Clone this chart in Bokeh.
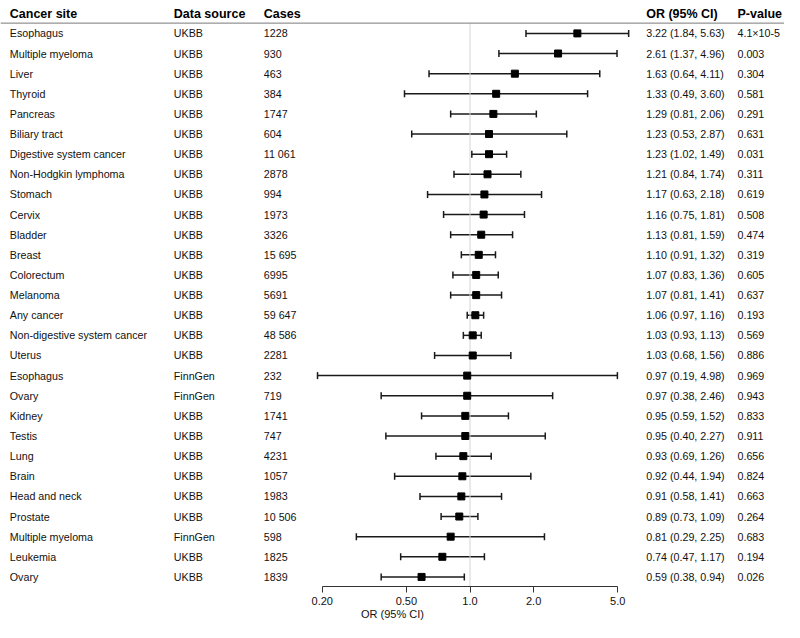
from bokeh.plotting import figure
from bokeh.models import (ColumnDataSource, Range1d, LinearScale, Span, Whisker,
                          TeeHead, FixedTicker)
from bokeh.core.properties import value
from bokeh.embed import file_html
from bokeh.resources import INLINE

# ---------------- data ----------------
sites = ["Esophagus", "Multiple myeloma", "Liver", "Thyroid", "Pancreas", "Biliary tract",
         "Digestive system cancer", "Non-Hodgkin lymphoma", "Stomach", "Cervix", "Bladder",
         "Breast", "Colorectum", "Melanoma", "Any cancer", "Non-digestive system cancer",
         "Uterus", "Esophagus", "Ovary", "Kidney", "Testis", "Lung", "Brain", "Head and neck",
         "Prostate", "Multiple myeloma", "Leukemia", "Ovary"]
sources = ["UKBB"] * 17 + ["FinnGen", "FinnGen"] + ["UKBB"] * 6 + ["FinnGen"] + ["UKBB"] * 2
cases = ["1228", "930", "463", "384", "1747", "604", "11 061", "2878", "994", "1973", "3326",
         "15 695", "6995", "5691", "59 647", "48 586", "2281", "232", "719", "1741", "747",
         "4231", "1057", "1983", "10 506", "598", "1825", "1839"]
or_est = [3.22, 2.61, 1.63, 1.33, 1.29, 1.23, 1.23, 1.21, 1.17, 1.16, 1.13, 1.10, 1.07, 1.07,
          1.06, 1.03, 1.03, 0.97, 0.97, 0.95, 0.95, 0.93, 0.92, 0.91, 0.89, 0.81, 0.74, 0.59]
ci_low = [1.84, 1.37, 0.64, 0.49, 0.81, 0.53, 1.02, 0.84, 0.63, 0.75, 0.81, 0.91, 0.83, 0.81,
          0.97, 0.93, 0.68, 0.19, 0.38, 0.59, 0.40, 0.69, 0.44, 0.58, 0.73, 0.29, 0.47, 0.38]
ci_high = [5.63, 4.96, 4.11, 3.60, 2.06, 2.87, 1.49, 1.74, 2.18, 1.81, 1.59, 1.32, 1.36, 1.41,
           1.16, 1.13, 1.56, 4.98, 2.46, 1.52, 2.27, 1.26, 1.94, 1.41, 1.09, 2.25, 1.17, 0.94]
p_values = ["4.1×10-5", "0.003", "0.304", "0.581", "0.291", "0.631", "0.031", "0.311", "0.619",
            "0.508", "0.474", "0.319", "0.605", "0.637", "0.193", "0.569", "0.886", "0.969",
            "0.943", "0.833", "0.911", "0.656", "0.824", "0.663", "0.264", "0.683", "0.194",
            "0.026"]
headers = ["Cancer site", "Data source", "Cases", "OR (95% CI)", "P-value"]
tick_values = [0.2, 0.5, 1.0, 2.0, 5.0]
tick_labels = ["0.20", "0.50", "1.0", "2.0", "5.0"]
axis_title = "OR (95% CI)"

# ---------------- layout constants ----------------
W, H = 784, 622
BOTTOM = 34                 # space below frame for the axis
FRAME_H = H - BOTTOM
PX_DEC = 211.4              # pixels per decade
X_ONE = 469.5               # pixel of OR = 1 inside the frame
ROW0 = 33.0                 # pixel of first row inside frame
ROW_H = 20.2
col_x = [9.3, 173.3, 263.3, 645.7, 737.0]
FONT = value("Liberation Sans")

n = len(sites)
rows = list(range(n))
or_text = [f"{o:.2f} ({l:.2f}, {h:.2f})" for o, l, h in zip(or_est, ci_low, ci_high)]

src = ColumnDataSource(dict(y=rows, site=sites, source=sources, cases=cases,
                            est=or_est, lo=ci_low, hi=ci_high, ortxt=or_text, p=p_values))

y_bottom = (FRAME_H - ROW0) / ROW_H
y_top = -ROW0 / ROW_H
header_y = (13.5 - ROW0) / ROW_H
rule_y = (22.7 - ROW0) / ROW_H

p = figure(width=W, height=H, x_axis_type="log",
           x_range=Range1d(10 ** (-X_ONE / PX_DEC), 10 ** ((W - X_ONE) / PX_DEC)),
           y_range=Range1d(y_bottom, y_top),
           output_backend="svg", toolbar_location=None, y_axis_location=None,
           min_border_left=0, min_border_right=0, min_border_top=0, min_border_bottom=BOTTOM)
p.outline_line_color = None
p.xgrid.visible = False
p.ygrid.visible = False
p.background_fill_color = "white"
p.border_fill_color = "white"

p.extra_x_ranges = {"px": Range1d(0, W)}
p.extra_x_scales = {"px": LinearScale()}

# header rule and reference line
p.add_layout(Span(location=rule_y, dimension="width", line_color="#7a7a7a", line_width=1))
p.segment(x0=[1.0], x1=[1.0], y0=[rule_y], y1=[y_bottom], line_color="#d4d4d4", line_width=1)

# confidence intervals
p.add_layout(Whisker(source=src, base="y", lower="lo", upper="hi", dimension="width",
                     line_color="#1a1a1a", line_width=1.5,
                     lower_head=TeeHead(size=7, line_color="#1a1a1a", line_width=1.5),
                     upper_head=TeeHead(size=7, line_color="#1a1a1a", line_width=1.5)))
p.scatter(x="est", y="y", source=src, marker="square", size=7,
          fill_color="black", line_color="black")

# text columns
for cx, field in zip(col_x, ["site", "source", "cases", "ortxt", "p"]):
    p.text(x=cx, y="y", text=field, source=src, x_range_name="px",
           text_font=FONT, text_font_size="10.7px", text_color="#111111",
           text_baseline="middle", text_align="left")
p.text(x=col_x, y=[header_y] * 5, text=headers, x_range_name="px",
       text_font=FONT, text_font_size="12.5px", text_font_style="bold",
       text_color="#000000", text_baseline="middle", text_align="left")

# axis
ax = p.xaxis[0]
ax.bounds = (tick_values[0], tick_values[-1])
ax.ticker = FixedTicker(ticks=tick_values, minor_ticks=[])
ax.major_label_overrides = {v: t for v, t in zip(tick_values, tick_labels)}
ax.axis_label = axis_title
ax.axis_label_text_font = "Liberation Sans"
ax.axis_label_text_font_style = "normal"
ax.axis_label_text_font_size = "11px"
ax.axis_label_text_color = "#111111"
ax.axis_label_standoff = 0
ax.major_label_text_font = "Liberation Sans"
ax.major_label_text_font_size = "11px"
ax.major_label_text_color = "#111111"
ax.major_label_standoff = 4
ax.axis_line_color = "#333333"
ax.major_tick_line_color = "#333333"
ax.major_tick_out = 6
ax.major_tick_in = 0
ax.minor_tick_out = 0
ax.minor_tick_in = 0

open("out.html", "w").write(file_html(p, INLINE))
